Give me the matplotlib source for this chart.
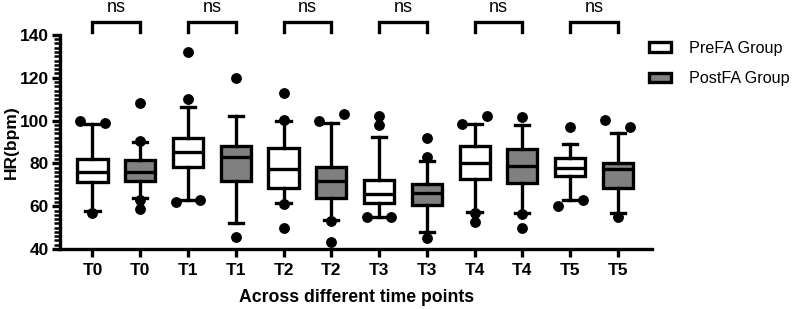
import matplotlib
matplotlib.use('Agg')
import matplotlib.pyplot as plt
from matplotlib.patches import Patch
from matplotlib.ticker import MultipleLocator

plt.rcParams['font.family'] = ['Liberation Sans', 'DejaVu Sans']

labels = ['T0', 'T0', 'T1', 'T1', 'T2', 'T2', 'T3', 'T3', 'T4', 'T4', 'T5', 'T5']
groups = ['PreFA Group', 'PostFA Group']

# box stats (pre/post alternating)
q1 = [71.5, 72, 78.5, 72, 68.4, 64, 61.3, 60.6, 72.6, 71, 74.0, 68.4]
med = [76, 76, 85.2, 82.8, 77.4, 71.9, 65.7, 66, 80, 78.9, 78, 77.4]
q3 = [82.1, 81.8, 91.7, 88.3, 87.1, 78.5, 72.2, 70.4, 88.1, 86.6, 82.7, 80.4]
whislo = [57.9, 63.7, 62.9, 52, 61.3, 53.6, 54.8, 48.1, 57.4, 56.7, 62.9, 57]
whishi = [98.5, 89.8, 106.5, 102.1, 99.8, 98.7, 92.5, 81.3, 98.3, 97.9, 88.9, 94.1]

# outlier points: (value, side) side -1 left, 0 centre, 1 right
outliers = [
    [(100, -1), (99, 1), (56.8, 0)],
    [(108, 0), (90.5, 0), (63, 0), (58.7, 0)],
    [(132.2, 0), (110.1, 0), (62.1, -1), (63, 1)],
    [(120.1, 0), (45.8, 0)],
    [(113, 0), (100.2, 0), (61, 0), (49.7, 0)],
    [(100, -1), (102.9, 1), (53, 0), (43.1, 0)],
    [(102.1, 0), (97.9, 0), (54.8, -1), (54.8, 1)],
    [(91.7, 0), (82.8, 0), (45, 0)],
    [(98.6, -1), (102.1, 1), (57, 0), (52.8, 0)],
    [(101.8, 0), (56.3, 0), (49.7, 0)],
    [(96.9, 0), (63, 1), (60.1, -1)],
    [(100.3, -1), (97.2, 1), (54.8, 0)],
]

fills = ['white', '#808080']
lw = 2.4

fig = plt.figure(figsize=(7.96, 3.09), dpi=100)
ax = fig.add_axes([0.0754, 0.194, 0.744, 0.693])

pos = list(range(len(labels)))
stats = []
for i in pos:
    stats.append(dict(med=med[i], q1=q1[i], q3=q3[i], whislo=whislo[i],
                      whishi=whishi[i], fliers=[]))

bp = ax.bxp(stats, positions=pos, widths=0.63, patch_artist=True,
            showfliers=False, capwidths=0.3,
            boxprops=dict(linewidth=lw, edgecolor='black'),
            medianprops=dict(linewidth=lw, color='black'),
            whiskerprops=dict(linewidth=lw, color='black'),
            capprops=dict(linewidth=lw, color='black'))
for i, b in enumerate(bp['boxes']):
    b.set_facecolor(fills[i % 2])

for i in pos:
    xs = [i + 0.26 * s for v, s in outliers[i]]
    ys = [v for v, s in outliers[i]]
    ax.scatter(xs, ys, s=46, color='black', zorder=5, clip_on=False)

# significance brackets
for k in range(0, len(labels), 2):
    ax.plot([k, k, k + 1, k + 1], [141.4, 146, 146, 141.4], color='black',
            lw=lw, clip_on=False, solid_joinstyle='miter')
    ax.text(k + 0.5, 152.8, 'ns', ha='center', va='center', fontsize=13)

ax.set_xlim(-0.68, 11.72)
ax.set_ylim(40, 140)
ax.set_xticks(pos)
ax.set_xticklabels(labels, fontsize=12.5, fontweight='bold')
ax.yaxis.set_major_locator(MultipleLocator(20))
ax.yaxis.set_minor_locator(MultipleLocator(2))
ax.tick_params(axis='y', labelsize=12.5, width=lw, length=6, pad=2)
ax.tick_params(axis='y', which='minor', width=1.8, length=4)
ax.tick_params(axis='x', width=lw, length=6, pad=4)
for lab in ax.get_yticklabels():
    lab.set_fontweight('bold')

ax.spines['top'].set_visible(False)
ax.spines['right'].set_visible(False)
ax.spines['left'].set_linewidth(lw)
ax.spines['bottom'].set_linewidth(lw)

ax.set_ylabel('HR(bpm)', fontsize=12.5, fontweight='bold', labelpad=1)
ax.set_xlabel('Across different time points', fontsize=12.7, fontweight='bold', labelpad=8)

handles = [Patch(facecolor=fills[j], edgecolor='black', linewidth=lw, label=groups[j])
           for j in range(2)]
fig.legend(handles=handles, loc='upper left', bbox_to_anchor=(0.797, 0.915),
           frameon=False, fontsize=11.6, handlelength=1.35, handleheight=0.5,
           handletextpad=1.15, labelspacing=0.95)

fig.savefig('out.png', dpi=100)
